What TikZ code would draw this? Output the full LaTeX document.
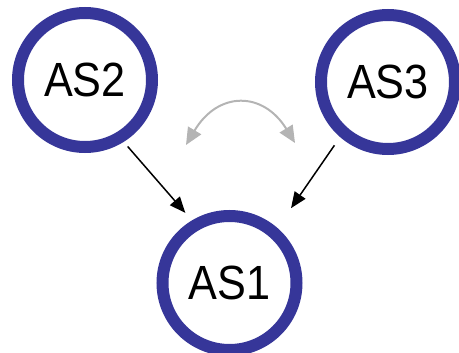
\documentclass[tikz,border=0pt]{standalone}
\usepackage{fontspec}
\setmainfont{Liberation Sans}[FakeStretch=0.9]
\usetikzlibrary{arrows.meta}
\definecolor{asblue}{RGB}{54,54,153}
\definecolor{peergray}{RGB}{180,180,180}
\begin{document}
\begin{tikzpicture}[x=1pt,y=1pt,as/.style={shape=circle,draw=asblue,line width=12pt,minimum size=134pt,inner sep=0pt,font=\fontsize{48}{48}\selectfont},link/.style={line width=1.5pt,-{Triangle[length=16pt,width=13pt]}},peer/.style={draw=peergray,line width=2pt,{Triangle[length=17pt,width=15pt]}-{Triangle[length=17pt,width=15pt]}}]
\useasboundingbox (0,0) rectangle (459,-353);

\node[as] (AS2) at (85,-80) {AS2};
\node[as] (AS3) at (388,-82) {AS3};
\node[as] (AS1) at (229.5,-283) {AS1};

\draw[link,shorten <=6pt,shorten >=10pt] (AS2.-58) -- (AS1.121);
\draw[link,shorten <=10pt,shorten >=24pt] (AS3.-131) -- (AS1.49);

\coordinate (PL) at (186,-145);
\coordinate (PR) at (295,-143);
\draw[peer] (PL) .. controls (218,-91) and (263,-91) .. (PR);
\end{tikzpicture}
\end{document}
